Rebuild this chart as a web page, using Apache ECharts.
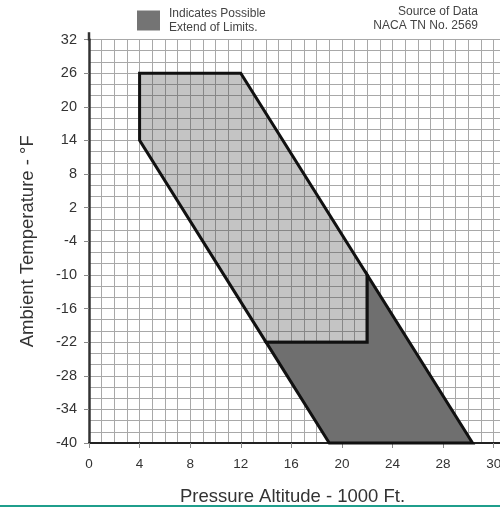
<!DOCTYPE html>
<html>
<head>
<meta charset="utf-8">
<script src="https://cdn.jsdelivr.net/npm/echarts@6/dist/echarts.min.js"></script>
<style>
  html, body { margin: 0; padding: 0; background: #fff; }
  #chart { width: 500px; height: 508px; }
</style>
</head>
<body>
<div id="chart"></div>
<script>
// Operating envelope: pressure altitude (1000 ft) vs ambient temperature (°F)
const baseAltitude = [4, 12, 22, 22, 14, 4];
const baseTemperature = [26, 26, -10, -22, -22, 14];

const extendedAltitude = [14, 22, 22, 30.33, 19];
const extendedTemperature = [-22, -22, -10, -40, -40];

// Tick labels along the altitude axis (0..32 step 4)
const altitudeTickValues = [0, 4, 8, 12, 16, 20, 24, 28, 32];
const altitudeTickLabels = ['0', '4', '8', '12', '16', '20', '24', '28', '30'];

const extendedName = 'Indicates Possible\nExtend of Limits.';

function zip(xs, ys) { return xs.map((x, i) => [x, ys[i]]); }

function polygonRenderer(points, fill) {
  return function (params, api) {
    if (params.dataIndex !== 0) return null;
    return {
      type: 'polygon',
      shape: { points: points.map(p => api.coord(p)) },
      style: { fill: fill, stroke: '#111', lineWidth: 3, lineJoin: 'miter' }
    };
  };
}

const basePts = zip(baseAltitude, baseTemperature);
const extPts = zip(extendedAltitude, extendedTemperature);

const chart = echarts.init(document.getElementById('chart'), null, { renderer: 'canvas' });
const FONT = 'Liberation Sans, Arial, sans-serif';

chart.setOption({
  animation: false,
  backgroundColor: '#fff',
  textStyle: { fontFamily: FONT },
  title: {
    text: 'Source of Data\nNACA TN No. 2569',
    left: 478, top: 5, padding: 0,
    textAlign: 'right',
    textStyle: { fontFamily: FONT, fontSize: 12, fontWeight: 'normal', color: '#444', lineHeight: 13.5 }
  },
  legend: {
    data: [extendedName],
    left: 137, top: 7,
    padding: 0,
    itemWidth: 23, itemHeight: 20,
    icon: 'rect',
    selectedMode: false,
    textStyle: { fontFamily: FONT, fontSize: 12, color: '#444', lineHeight: 13.5, padding: [0, 0, 0, 4] }
  },
  grid: { left: 89, top: 39.5, bottom: 65, right: 0, containLabel: false, outerBoundsMode: 'none' },
  xAxis: {
    type: 'value',
    min: 0, max: 32.5, interval: 4,
    name: 'Pressure Altitude - 1000 Ft.',
    nameLocation: 'middle',
    nameGap: 44,
    nameTextStyle: { fontFamily: FONT, fontSize: 18.5, color: '#333', padding: [0, 0, 0, -4] },
    axisLine: { show: true, onZero: false, lineStyle: { color: '#222', width: 2 } },
    axisTick: { show: true, length: 5, lineStyle: { color: '#888' } },
    axisLabel: {
      margin: 14, fontSize: 13.5, color: '#333', fontFamily: FONT,
      formatter: function (v) {
        const i = altitudeTickValues.indexOf(v);
        return i >= 0 ? altitudeTickLabels[i] : '';
      }
    },
    splitLine: { show: true, lineStyle: { color: '#a8a8a8', width: 1 } },
    minorTick: { show: false, splitNumber: 4 },
    minorSplitLine: { show: true, lineStyle: { color: '#a8a8a8', width: 1 } }
  },
  yAxis: {
    type: 'value',
    min: -40, max: 32, interval: 6,
    name: 'Ambient Temperature - °F',
    nameLocation: 'middle',
    nameGap: 52,
    nameTextStyle: { fontFamily: FONT, fontSize: 18.5, color: '#333' },
    axisLine: { show: true, lineStyle: { color: '#333', width: 2.5 } },
    axisTick: { show: true, length: 5, lineStyle: { color: '#888' } },
    axisLabel: { margin: 12, fontSize: 14.5, color: '#333', fontFamily: FONT },
    splitLine: { show: true, lineStyle: { color: '#a8a8a8', width: 1 } },
    minorTick: { show: false, splitNumber: 3 },
    minorSplitLine: { show: true, lineStyle: { color: '#a8a8a8', width: 1 } }
  },
  series: [
    {
      name: 'Limits',
      type: 'custom',
      coordinateSystem: 'cartesian2d',
      renderItem: polygonRenderer(basePts, 'rgba(60,60,60,0.3)'),
      data: basePts,
      z: 3
    },
    {
      name: extendedName,
      type: 'custom',
      coordinateSystem: 'cartesian2d',
      itemStyle: { color: '#747474' },
      renderItem: polygonRenderer(extPts, '#6f6f6f'),
      data: extPts,
      z: 4
    }
  ]
});

// Extend the temperature axis line slightly above the top grid line,
// and add the thin rule along the bottom edge.
const top32 = chart.convertToPixel({ gridIndex: 0 }, [0, 32]);
const top33 = chart.convertToPixel({ gridIndex: 0 }, [0, 33.3]);
chart.setOption({
  graphic: [
    {
      type: 'line',
      shape: { x1: top32[0], y1: top32[1] + 1, x2: top33[0], y2: top33[1] },
      style: { stroke: '#333', lineWidth: 2.5 },
      z: 10
    },
    {
      type: 'rect',
      left: 0, bottom: 1,
      shape: { width: 500, height: 2 },
      style: { fill: '#1f9e8c' }
    }
  ]
});
</script>
</body>
</html>
